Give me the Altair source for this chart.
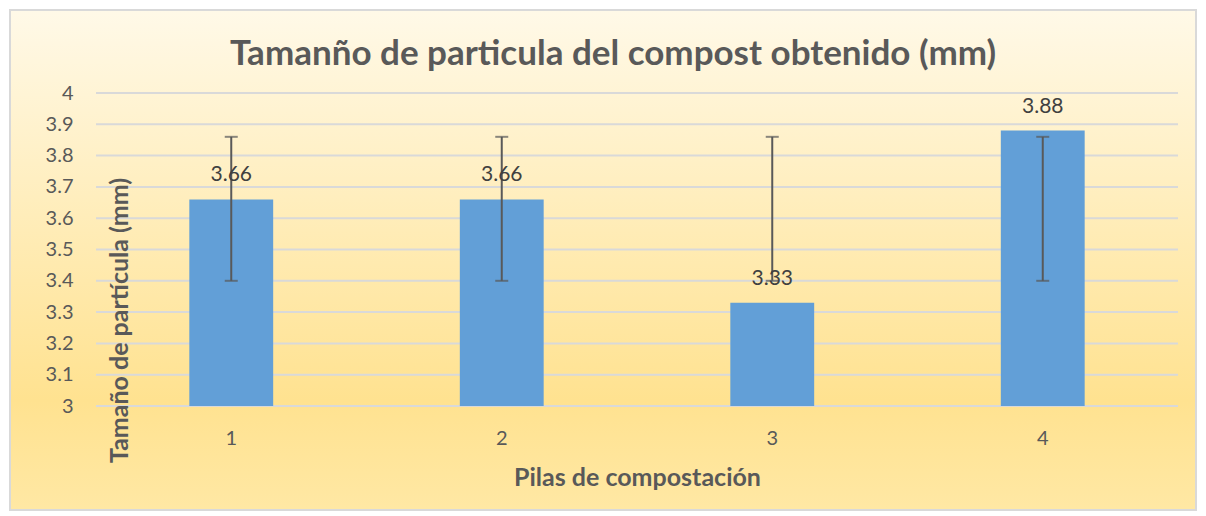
import altair as alt
import pandas as pd

piles = ["1", "2", "3", "4"]
values = [3.66, 3.66, 3.33, 3.88]
err_low = [3.40, 3.40, 3.40, 3.40]
err_high = [3.86, 3.86, 3.86, 3.86]
grid_ticks = [3.0, 3.1, 3.2, 3.3, 3.4, 3.5, 3.6, 3.7, 3.8, 3.9, 4.0]

df = pd.DataFrame({"pila": piles, "valor": values, "lo": err_low, "hi": err_high})
grid_df = pd.DataFrame({"t": grid_ticks})
bg_df = pd.DataFrame({"a": [0]})

W, H = 1082, 313
FONT = "Lato"

xscale = alt.Scale(domain=piles, paddingInner=0.69, paddingOuter=0.345)
yscale = alt.Scale(domain=[3, 4], zero=False, nice=False)

x_axis = alt.Axis(
    title="Pilas de compostación",
    labelAngle=0,
    domain=False,
    ticks=False,
    grid=False,
    zindex=1,
    labelFont=FONT,
    labelFontSize=20,
    labelColor="#595959",
    labelPadding=22,
    titleFont=FONT,
    titleFontSize=25,
    titleFontWeight="bold",
    titleColor="#595959",
    titlePadding=17,
)

y_axis = alt.Axis(
    title="Tamaño de partícula (mm)",
    values=grid_ticks,
    format=".1~f",
    labelOverlap=False,
    domain=False,
    ticks=False,
    grid=False,
    zindex=1,
    labelFont=FONT,
    labelFontSize=20,
    labelColor="#595959",
    labelPadding=23,
    titleFont=FONT,
    titleFontSize=25,
    titleFontWeight="bold",
    titleColor="#595959",
    titleAngle=270,
    titleAlign="center",
    titleBaseline="middle",
    titleX=23,
    titleY=227,
)


def X():
    return alt.X("pila:N", scale=xscale, sort=piles, axis=x_axis)


def Y(field):
    return alt.Y(field, scale=yscale, axis=y_axis)


gradient = alt.Gradient(
    gradient="linear",
    stops=[
        alt.GradientStop(color="#FFF9E8", offset=0),
        alt.GradientStop(color="#FFE290", offset=0.78),
        alt.GradientStop(color="#FFE8A4", offset=1),
    ],
    x1=0, x2=0, y1=0, y2=1,
)

bg = alt.Chart(bg_df).mark_rect(fill=gradient, stroke="#D9D9D9", strokeWidth=2).encode(
    x=alt.value(-86), x2=alt.value(1100), y=alt.value(-83), y2=alt.value(417)
)

grid = alt.Chart(grid_df).mark_rule(color="#D9D9D9", strokeWidth=2).encode(
    y=Y("t:Q"),
    x=alt.value(0),
    x2=alt.value(W),
)

bars = alt.Chart(df).mark_bar(color="#629FD7").encode(
    x=X(),
    y=Y("valor:Q"),
    y2=alt.datum(3),
)

err = alt.Chart(df).mark_rule(color="#595959", strokeWidth=2).encode(
    x=X(),
    y=Y("lo:Q"),
    y2="hi:Q",
)
cap_lo = alt.Chart(df).mark_tick(color="#595959", thickness=2, size=13, orient="horizontal").encode(
    x=X(),
    y=Y("lo:Q"),
)
cap_hi = alt.Chart(df).mark_tick(color="#595959", thickness=2, size=13, orient="horizontal").encode(
    x=X(),
    y=Y("hi:Q"),
)

labels = alt.Chart(df).mark_text(
    font=FONT, fontSize=21, color="#404040", baseline="bottom", dy=-14
).encode(
    x=X(),
    y=Y("valor:Q"),
    text=alt.Text("valor:Q", format=".2f"),
)

chart = alt.layer(bg, grid, bars, err, cap_lo, cap_hi, labels).properties(
    width=W,
    height=H,
    title=alt.TitleParams(
        text="Tamanño de particula del compost obtenido (mm)",
        font=FONT,
        fontSize=35,
        fontWeight="bold",
        color="#595959",
        anchor="middle",
        dx=-24,
        dy=63,
        offset=0,
    ),
    autosize=alt.AutoSizeParams(type="none"),
    padding={"left": 88, "top": 85, "right": 20, "bottom": 106},
).configure_view(stroke=None).configure(background="white")

chart.save("out.html", embed_options={"renderer": "svg", "actions": False})
